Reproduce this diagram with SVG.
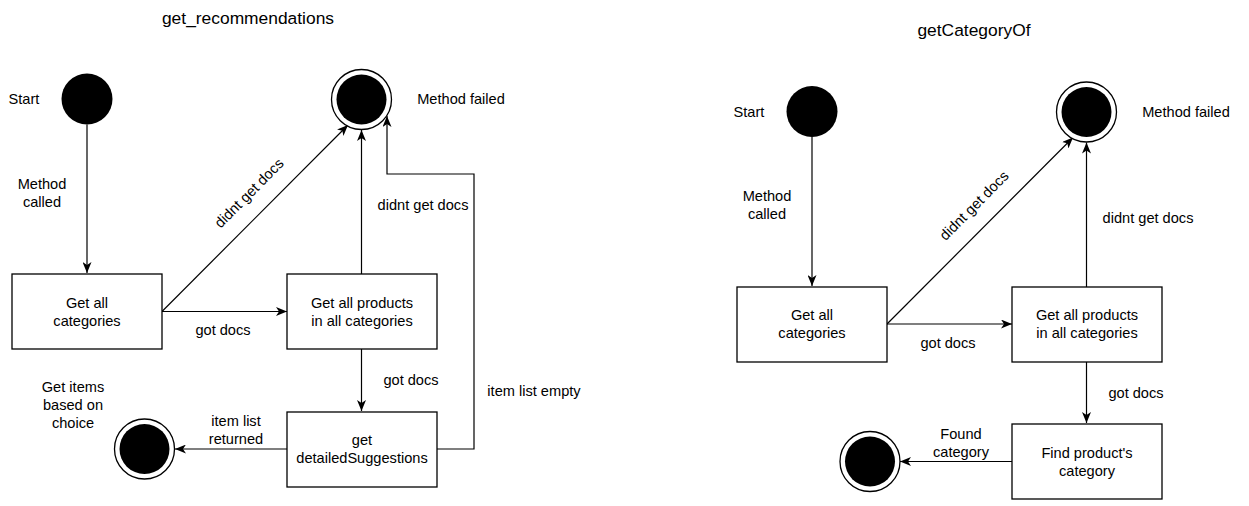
<svg xmlns="http://www.w3.org/2000/svg" width="1249" height="506" viewBox="0 0 1249 506">
<defs>
<marker id="arr" markerUnits="userSpaceOnUse" markerWidth="12" markerHeight="9" refX="11" refY="4.5" orient="auto">
<path d="M0,0 L11,4.5 L0,9 L3,4.5 Z" fill="#000"/>
</marker>
</defs>
<style>
text{font-family:"Liberation Sans",Arial,sans-serif;font-size:14.6px;fill:#000;text-anchor:middle}
.title{font-size:17.4px}
.box{fill:#fff;stroke:#000;stroke-width:1.3}
.start{fill:#000}
.endo{fill:#fff;stroke:#000;stroke-width:1.3}
.endi{fill:#000}
.edge{fill:none;stroke:#000;stroke-width:1.2;marker-end:url(#arr)}
</style>
<rect width="1249" height="506" fill="#fff"/>

<text class="title" x="248" y="24">get_recommendations</text>
<text class="title" x="974" y="36">getCategoryOf</text>

<g id="connectors">
<path class="edge" d="M87,124.5 L87,273"/>
<path class="edge" d="M162,311.5 L287,311.5"/>
<path class="edge" d="M162,311.5 L348,125"/>
<path class="edge" d="M361.5,274 L361.5,130"/>
<path class="edge" d="M361.5,349 L361.5,411"/>
<path class="edge" d="M437,449 L474,449 L474,174 L387,174 L387,116"/>
<path class="edge" d="M287,449 L175,449"/>

<path class="edge" d="M812,137 L812,286"/>
<path class="edge" d="M887,324 L1012,324"/>
<path class="edge" d="M887,324 L1073,137.5"/>
<path class="edge" d="M1086.5,287 L1086.5,142.5"/>
<path class="edge" d="M1086.5,362 L1086.5,423"/>
<path class="edge" d="M1012,461.5 L900,461.5"/>
</g>

<g id="labels">
<text x="24" y="104">Start</text>
<text x="42" y="189">Method</text>
<text x="42" y="207">called</text>
<text x="223" y="335">got docs</text>
<text transform="translate(249,193) rotate(-45)" y="5">didnt get docs</text>
<text x="423" y="210">didnt get docs</text>
<text x="411" y="385">got docs</text>
<text x="534" y="396">item list empty</text>
<text x="236" y="426">item list</text>
<text x="236" y="444">returned</text>
<text x="73" y="392">Get items</text>
<text x="73" y="410">based on</text>
<text x="73" y="428">choice</text>
<text x="461" y="104">Method failed</text>

<text x="749" y="117">Start</text>
<text x="767" y="201">Method</text>
<text x="767" y="219">called</text>
<text x="948" y="348">got docs</text>
<text transform="translate(974,205.5) rotate(-45)" y="5">didnt get docs</text>
<text x="1148" y="223">didnt get docs</text>
<text x="1136" y="398">got docs</text>
<text x="961" y="439">Found</text>
<text x="961" y="457">category</text>
<text x="1186" y="117">Method failed</text>
</g>

<g id="start1"><circle class="start" cx="87" cy="99" r="25.5"/></g>
<g id="fail1"><circle class="endo" cx="361.5" cy="99.5" r="30"/><circle class="endi" cx="361.5" cy="99.5" r="25"/></g>
<g id="getCategories1"><rect class="box" x="12" y="274" width="150" height="75"/><text x="87" y="307.5">Get all</text><text x="87" y="325.5">categories</text></g>
<g id="getProducts1"><rect class="box" x="287" y="274" width="150" height="75"/><text x="362" y="307.5">Get all products</text><text x="362" y="325.5">in all categories</text></g>
<g id="detailed1"><rect class="box" x="287" y="412" width="150" height="75"/><text x="362" y="445">get</text><text x="362" y="463">detailedSuggestions</text></g>
<g id="done1"><circle class="endo" cx="144.5" cy="449" r="30"/><circle class="endi" cx="144.5" cy="449" r="25"/></g>

<g id="start2"><circle class="start" cx="812" cy="111.5" r="25.5"/></g>
<g id="fail2"><circle class="endo" cx="1086.5" cy="112" r="30"/><circle class="endi" cx="1086.5" cy="112" r="25"/></g>
<g id="getCategories2"><rect class="box" x="737" y="287" width="150" height="75"/><text x="812" y="320">Get all</text><text x="812" y="338">categories</text></g>
<g id="getProducts2"><rect class="box" x="1012" y="287" width="150" height="75"/><text x="1087" y="320">Get all products</text><text x="1087" y="338">in all categories</text></g>
<g id="findCategory2"><rect class="box" x="1012" y="424" width="150" height="75"/><text x="1087" y="457.5">Find product's</text><text x="1087" y="475.5">category</text></g>
<g id="done2"><circle class="endo" cx="870" cy="461.5" r="30"/><circle class="endi" cx="870" cy="461.5" r="25"/></g>
</svg>
